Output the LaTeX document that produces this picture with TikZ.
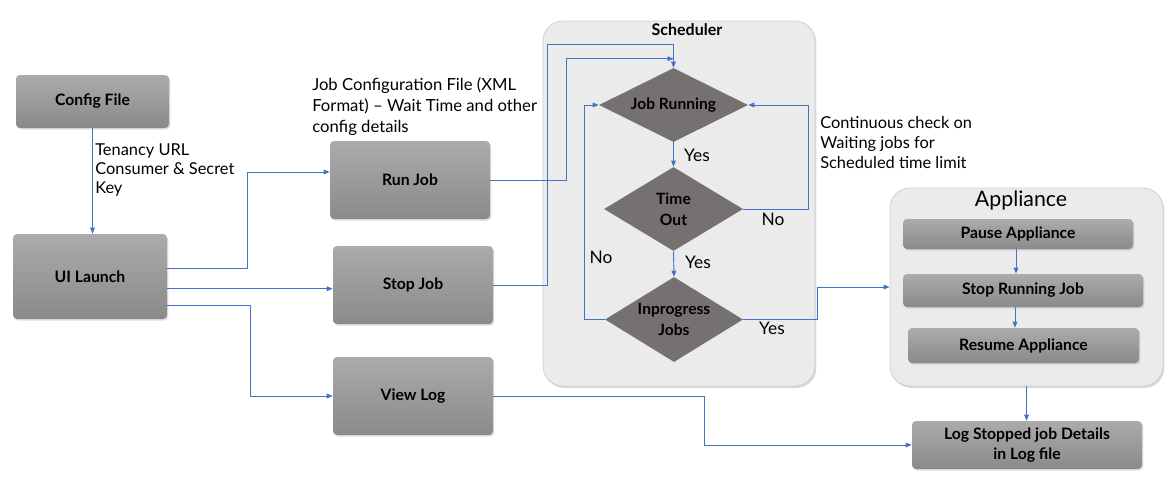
\documentclass[tikz,border=0pt]{standalone}
\usepackage{fontspec}
\setmainfont{Lato}
\usetikzlibrary{arrows.meta,shapes.geometric,shadows,calc}
\definecolor{lnk}{HTML}{4472C4}
\definecolor{boxtop}{HTML}{ABABAB}
\definecolor{boxbot}{HTML}{8A8A8A}
\definecolor{diafill}{HTML}{767171}
\definecolor{contfill}{HTML}{EBEBEB}
\definecolor{contline}{HTML}{D0D0D0}
\begin{document}
\begin{tikzpicture}[x=0.75pt,y=-0.75pt,
  procbox/.style={rectangle, rounded corners=3pt, top color=boxtop, bottom color=boxbot,
    drop shadow={shadow xshift=1pt, shadow yshift=-1.2pt, opacity=0.25},
    font=\bfseries\fontsize{11.8}{14}\selectfont, inner sep=0pt, align=center},
  dia/.style={diamond, fill=diafill, inner sep=0pt, draw=none},
  dialabel/.style={font=\bfseries\fontsize{11.7}{15.5}\selectfont, align=center, text=black},
  cont/.style={rectangle, rounded corners=15pt, fill=contfill, draw=contline, line width=0.6pt,
    drop shadow={shadow xshift=1pt, shadow yshift=-1.5pt, opacity=0.3}, inner sep=0pt},
  note/.style={font=\fontsize{12.3}{14.5}\selectfont, align=left, anchor=north west, inner sep=0pt},
  yn/.style={font=\fontsize{13}{15}\selectfont, inner sep=0pt},
  arr/.style={draw=lnk, line width=0.7pt, -{Triangle[length=4.5pt,width=3.5pt]}},
]
\useasboundingbox (0,0) rectangle (1174,482);

% containers
\node[cont, minimum width=204pt, minimum height=273.75pt] (sched) at (679,203.5) {};
\node[font=\bfseries\fontsize{12}{14}\selectfont, inner sep=0pt] (schedt) at (687,30) {Scheduler};
\node[cont, minimum width=204.75pt, minimum height=148.5pt] (app) at (1026.5,287) {};
\node[font=\fontsize{16}{18}\selectfont, inner sep=0pt] (appt) at (1021,200) {Appliance};

% process boxes
\node[procbox, minimum width=114.75pt, minimum height=39.75pt] (cfg) at (92.5,101.5) {Config File};
\node[procbox, minimum width=115.5pt, minimum height=63.75pt] (ui) at (90,276.5) {UI Launch};
\node[procbox, minimum width=120pt, minimum height=58.5pt] (run) at (410,180) {Run Job};
\node[procbox, minimum width=120pt, minimum height=58.5pt] (stop) at (413,285) {Stop Job};
\node[procbox, minimum width=120pt, minimum height=58.5pt] (view) at (413,396) {View Log};
\node[procbox, minimum width=172.5pt, minimum height=22.5pt] (pause) at (1018,234) {Pause Appliance};
\node[procbox, minimum width=180pt, minimum height=24.75pt] (stoprun) at (1023,290.5) {Stop Running Job};
\node[procbox, minimum width=173.25pt, minimum height=26.25pt] (resume) at (1023.5,345.5) {Resume Appliance};
\node[procbox, minimum width=172.5pt, minimum height=36pt, font=\bfseries\fontsize{11.8}{15.5}\selectfont] (log) at (1027,445) {Log Stopped job Details\\in Log file};

% diamonds
\node[dia, minimum width=111.75pt, minimum height=55.5pt,
  label={[dialabel]center:Job Running}] (jr) at (673.5,105) {};
\node[dia, minimum width=104.25pt, minimum height=63pt,
  label={[dialabel]center:Time\\Out}] (to) at (673.5,209) {};
\node[dia, minimum width=103.5pt, minimum height=63.75pt,
  label={[dialabel]center:Inprogress\\Jobs}] (ip) at (674,319.5) {};

% notes
\node[note] (n1) at (95,143) {Tenancy URL\\Consumer \& Secret\\Key};
\node[note, font=\fontsize{12.5}{15.75}\selectfont] (n2) at (312,77) {Job Configuration File (XML\\Format) -- Wait Time and other\\config details};
\node[note, font=\fontsize{12.3}{15}\selectfont] (n3) at (820,116) {Continuous check on\\Waiting jobs for\\Scheduled time limit};

% yes / no
\node[yn] (y1) at (697,155) {Yes};
\node[yn] (no1) at (773,219) {No};
\node[yn] (y2) at (698,262) {Yes};
\node[yn] (no2) at (601,257) {No};
\node[yn] (y3) at (772,328) {Yes};

% connectors
\coordinate (runin) at ([yshift=6pt]run.west);
\coordinate (stopin) at ([yshift=-2.8pt]stop.west);
\coordinate (jrin) at ([yshift=6.75pt]jr.north);
\draw[arr] (cfg.south) -- (cfg.south |- ui.north);
\draw[arr] ([yshift=6.4pt]ui.east) -- ++(80,0) |- (runin);
\draw[arr] (stopin -| ui.east) -- (stopin);
\draw[arr] ([yshift=-21.4pt]ui.east) -- ++(83,0) |- (view.west);
\draw[arr] (run.east) -- ++(76,0) |- (jrin);
\draw[arr] (stop.east) -- ++(54,0) |- ($(jr.north)+(0,-23)$) -- (jr.north);
\draw[arr] (jr.south) -- (to.north);
\draw[arr] (to.east) -- ++(65,0) |- (jr.east);
\draw[arr] (to.south) -- (ip.north);
\draw[arr] (ip.west) -- ++(-20,0) |- (jr.west);
\draw[arr] (ip.east) -- ++(74,0) |- (app.west);
\draw[arr] ([xshift=-1.5pt]pause.south) -- ([xshift=-1.5pt]pause.south |- stoprun.north);
\draw[arr] ([xshift=-6pt]stoprun.south) -- ([xshift=-6pt]stoprun.south |- resume.north);
\draw[arr] (app.south) -- (app.south |- log.north);
\draw[arr] (view.east) -- ++(211,0) |- (log.west);
\end{tikzpicture}
\end{document}
